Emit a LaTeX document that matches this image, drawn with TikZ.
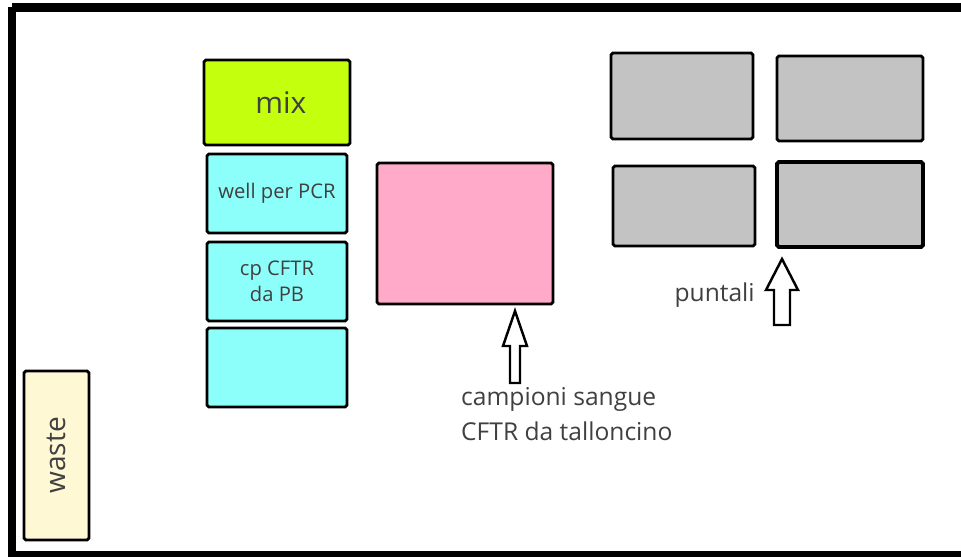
\documentclass[tikz,border=0pt]{standalone}
\usepackage{fontspec}
\setmainfont{Open Sans}
\definecolor{mixgreen}{HTML}{C4FF0E}
\definecolor{wellcyan}{HTML}{8CFFFB}
\definecolor{samplepink}{HTML}{FFAAC8}
\definecolor{tipgray}{HTML}{C3C3C3}
\definecolor{wastecream}{HTML}{FFF8D4}
\definecolor{labelgray}{HTML}{404040}
\begin{document}
\begin{tikzpicture}[x=0.02cm,y=-0.02cm,
        box/.style={draw,line width=1.6pt,rounded corners=1pt,inner sep=0pt,text=labelgray},
        hollow/.style={draw,line width=1.4pt,fill=white,line join=miter}]
        \useasboundingbox (0,0) rectangle (961,557);
        \clip (0,0) rectangle (961,557);
        \draw[line width=4.6pt] (12,7.5) -- (990,7.5);
        \draw[line width=4.6pt] (12,7.5) -- (12,555) -- (990,555);
        \node[box,fill=mixgreen,minimum width=2.92cm,minimum height=1.70cm,font=\fontsize{17}{20}\selectfont] (mix) at (277,102.5) {\hspace{0.15cm}mix};
        \node[box,fill=wellcyan,minimum width=2.80cm,minimum height=1.58cm,font=\fontsize{11.5}{14}\selectfont] (well) at (277,193.5) {well per PCR};
        \node[box,fill=wellcyan,minimum width=2.80cm,minimum height=1.58cm,align=center,font=\fontsize{11.5}{15}\selectfont] (cpcftr) at (277,281.5) {cp CFTR\\da PB};
        \node[box,fill=wellcyan,minimum width=2.80cm,minimum height=1.58cm] (spare) at (277,367.5) {};
        \node[box,fill=samplepink,minimum width=3.52cm,minimum height=2.82cm] (samples) at (465,233.5) {};
        \node[box,fill=tipgray,minimum width=2.84cm,minimum height=1.72cm] (tipsA) at (682,96) {};
        \node[box,fill=tipgray,minimum width=2.92cm,minimum height=1.70cm] (tipsB) at (850,98.5) {};
        \node[box,fill=tipgray,minimum width=2.84cm,minimum height=1.60cm] (tipsC) at (684,206) {};
        \node[box,fill=tipgray,line width=2.2pt,minimum width=2.92cm,minimum height=1.70cm] (tipsD) at (850,204.5) {};
        \node[box,fill=wastecream,minimum width=3.38cm,minimum height=1.30cm,rotate=90,font=\fontsize{16}{18}\selectfont] (waste) at (56.5,455.5) {waste};
        % block arrows
        \draw[hollow] (515,311) -- (527,346) -- (520,346) -- (520,383) -- (510,383) -- (510,346) -- (503,346) -- cycle;
        \draw[hollow] (782,259) -- (798,290) -- (790,290) -- (790,325) -- (774,325) -- (774,290) -- (766,290) -- cycle;
        \node[anchor=west,align=left,text=labelgray,font=\fontsize{14}{20}\selectfont] (sampletext) at (455,414) {campioni sangue\\CFTR da talloncino};
        \node[anchor=base east,inner sep=0pt,text=labelgray,font=\fontsize{14}{20}\selectfont] (tipstext) at (755,302) {puntali};
\end{tikzpicture}
\end{document}
